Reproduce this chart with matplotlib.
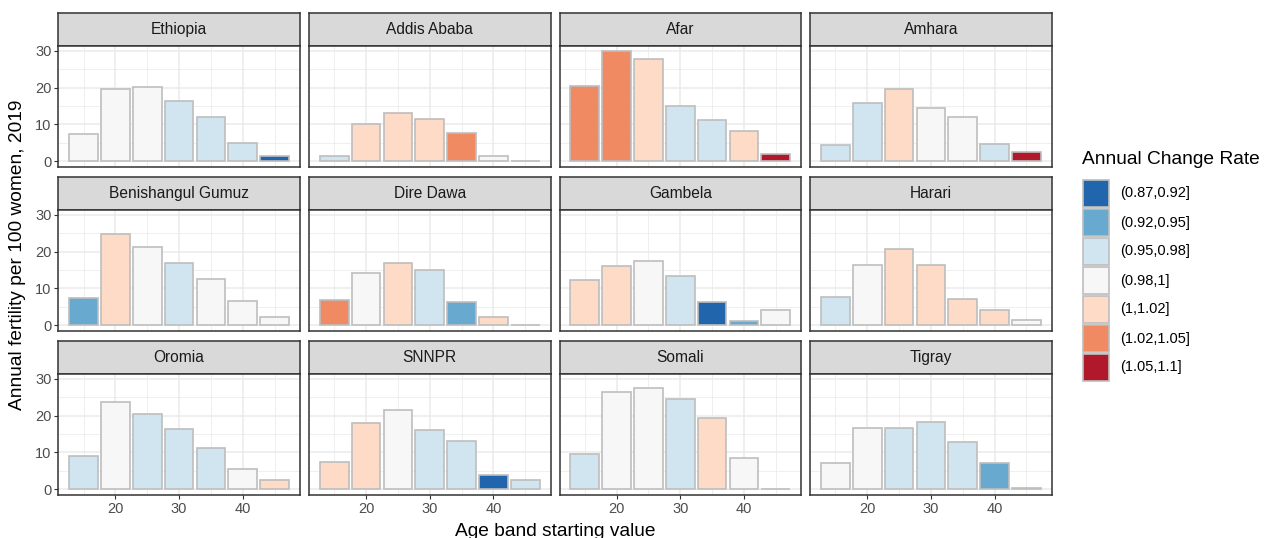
import matplotlib
matplotlib.use("Agg")
import matplotlib.pyplot as plt
from matplotlib.patches import Rectangle

plt.rcParams['font.family'] = ['Liberation Sans', 'DejaVu Sans']

# ---- data -------------------------------------------------------------
ages = [15, 20, 25, 30, 35, 40, 45]
regions = ["Ethiopia", "Addis Ababa", "Afar", "Amhara",
           "Benishangul Gumuz", "Dire Dawa", "Gambela", "Harari",
           "Oromia", "SNNPR", "Somali", "Tigray"]

rate_labels = ["(0.87,0.92]", "(0.92,0.95]", "(0.95,0.98]", "(0.98,1]",
               "(1,1.02]", "(1.02,1.05]", "(1.05,1.1]"]
rate_colors = ["#2166AC", "#67A9CF", "#D1E5F0", "#F7F7F7",
               "#FDDBC7", "#EF8A62", "#B2182B"]

fertility = {
    "Ethiopia":          [7.3, 19.5, 20.3, 16.3, 12.0, 5.0, 1.5],
    "Addis Ababa":       [1.5, 10.0, 13.0, 11.4, 7.7, 1.4, 0.1],
    "Afar":              [20.5, 29.9, 27.8, 15.0, 11.3, 8.3, 2.0],
    "Amhara":            [4.3, 15.7, 19.5, 14.4, 11.9, 4.7, 2.6],
    "Benishangul Gumuz": [7.3, 24.8, 21.3, 17.0, 12.6, 6.6, 2.3],
    "Dire Dawa":         [6.9, 14.2, 17.0, 15.1, 6.3, 2.3, 0.1],
    "Gambela":           [12.4, 16.1, 17.5, 13.5, 6.3, 1.2, 4.2],
    "Harari":            [7.8, 16.4, 20.7, 16.4, 7.2, 4.0, 1.4],
    "Oromia":            [8.9, 23.6, 20.5, 16.4, 11.3, 5.4, 2.5],
    "SNNPR":             [7.3, 18.1, 21.4, 16.1, 13.0, 3.8, 2.6],
    "Somali":            [9.6, 26.5, 27.5, 24.4, 19.4, 8.6, 0.1],
    "Tigray":            [7.1, 16.6, 16.7, 18.4, 12.8, 7.0, 0.4],
}

# index into rate_labels for every bar
rate_class = {
    "Ethiopia":          [3, 3, 3, 2, 2, 2, 0],
    "Addis Ababa":       [2, 4, 4, 4, 5, 3, 3],
    "Afar":              [5, 5, 4, 2, 2, 4, 6],
    "Amhara":            [2, 2, 4, 3, 3, 2, 6],
    "Benishangul Gumuz": [1, 4, 3, 2, 3, 3, 3],
    "Dire Dawa":         [5, 3, 4, 2, 1, 4, 3],
    "Gambela":           [4, 4, 3, 2, 0, 1, 3],
    "Harari":            [2, 3, 4, 4, 4, 4, 3],
    "Oromia":            [2, 3, 2, 2, 2, 3, 4],
    "SNNPR":             [4, 4, 3, 2, 2, 0, 2],
    "Somali":            [2, 3, 3, 2, 4, 3, 3],
    "Tigray":            [3, 3, 2, 2, 2, 1, 3],
}

# ---- layout (pixels) --------------------------------------------------
W, H = 1267, 538
fig = plt.figure(figsize=(W / 100, H / 100), dpi=100)

def add_px_axes(x0, y0, x1, y1):
    return fig.add_axes([x0 / W, 1 - y1 / H, (x1 - x0) / W, (y1 - y0) / H])

left, col_w, col_gap = 58.3, 241.6, 9.0
row_tops = [12.7, 176.7, 340.7]
strip_h, body_h = 33.0, 121.0

ymax = max(max(v) for v in fertility.values())
ylim = (-0.05 * ymax, ymax * 1.05)
xlim = (12.75 - 0.05 * 34.5, 47.25 + 0.05 * 34.5)

edge = "#333333"
for i, reg in enumerate(regions):
    r, c = divmod(i, 4)
    x0 = left + c * (col_w + col_gap)
    x1 = x0 + col_w
    top = row_tops[r]

    # strip
    sax = add_px_axes(x0, top, x1, top + strip_h)
    sax.set_xticks([]); sax.set_yticks([])
    sax.set_facecolor("#D9D9D9")
    for sp in sax.spines.values():
        sp.set_color(edge); sp.set_linewidth(1.1)
    sax.text(0.5, 0.5, reg, ha="center", va="center", fontsize=11.2,
             color="#1A1A1A", transform=sax.transAxes)

    # panel
    ax = add_px_axes(x0, top + strip_h, x1, top + strip_h + body_h)
    ax.set_xlim(*xlim); ax.set_ylim(*ylim)
    ax.set_axisbelow(True)
    ax.set_xticks([20, 30, 40]); ax.set_yticks([0, 10, 20, 30])
    ax.set_xticks([15, 25, 35, 45], minor=True)
    ax.set_yticks([5, 15, 25], minor=True)
    ax.grid(which="major", color="#EBEBEB", linewidth=1.1)
    ax.grid(which="minor", color="#EBEBEB", linewidth=0.55)
    for sp in ax.spines.values():
        sp.set_color(edge); sp.set_linewidth(1.1)
    ax.tick_params(which="minor", length=0)
    ax.tick_params(which="major", length=3, width=0.8, color=edge,
                   labelsize=10.5, labelcolor="#4D4D4D", pad=2)
    if c != 0:
        ax.tick_params(axis="y", length=0, labelleft=False)
    if r != 2:
        ax.tick_params(axis="x", length=0, labelbottom=False)

    cols = [rate_colors[k] for k in rate_class[reg]]
    ax.bar(ages, fertility[reg], width=4.5, color=cols,
           edgecolor="#BEBEBE", linewidth=1.2)

# axis titles
panels_right = left + 4 * col_w + 3 * col_gap
fig.text(18 / W, 1 - 255 / H, "Annual fertility per 100 women, 2019",
         rotation=90, ha="center", va="center", fontsize=13.8, color="black")
fig.text((left + panels_right) / 2 / W, 1 - 532 / H,
         "Age band starting value", ha="center", va="center", fontsize=13.8,
         color="black")

# legend
lax = add_px_axes(1075, 140, 1267, 400)
lax.set_xlim(1075, 1267); lax.set_ylim(400, 140)
lax.axis("off")
lax.text(1082, 160, "Annual Change Rate", ha="left", va="center",
         fontsize=13.8, color="black")
for k, (lab, col) in enumerate(zip(rate_labels, rate_colors)):
    y = 179 + k * 29
    lax.add_patch(Rectangle((1083, y + 1), 26, 27, facecolor=col,
                            edgecolor="#BEBEBE", linewidth=1.2))
    lax.text(1120, y + 14.5, lab, ha="left", va="center", fontsize=10.5,
             color="black")

fig.savefig("out.png", dpi=100)
